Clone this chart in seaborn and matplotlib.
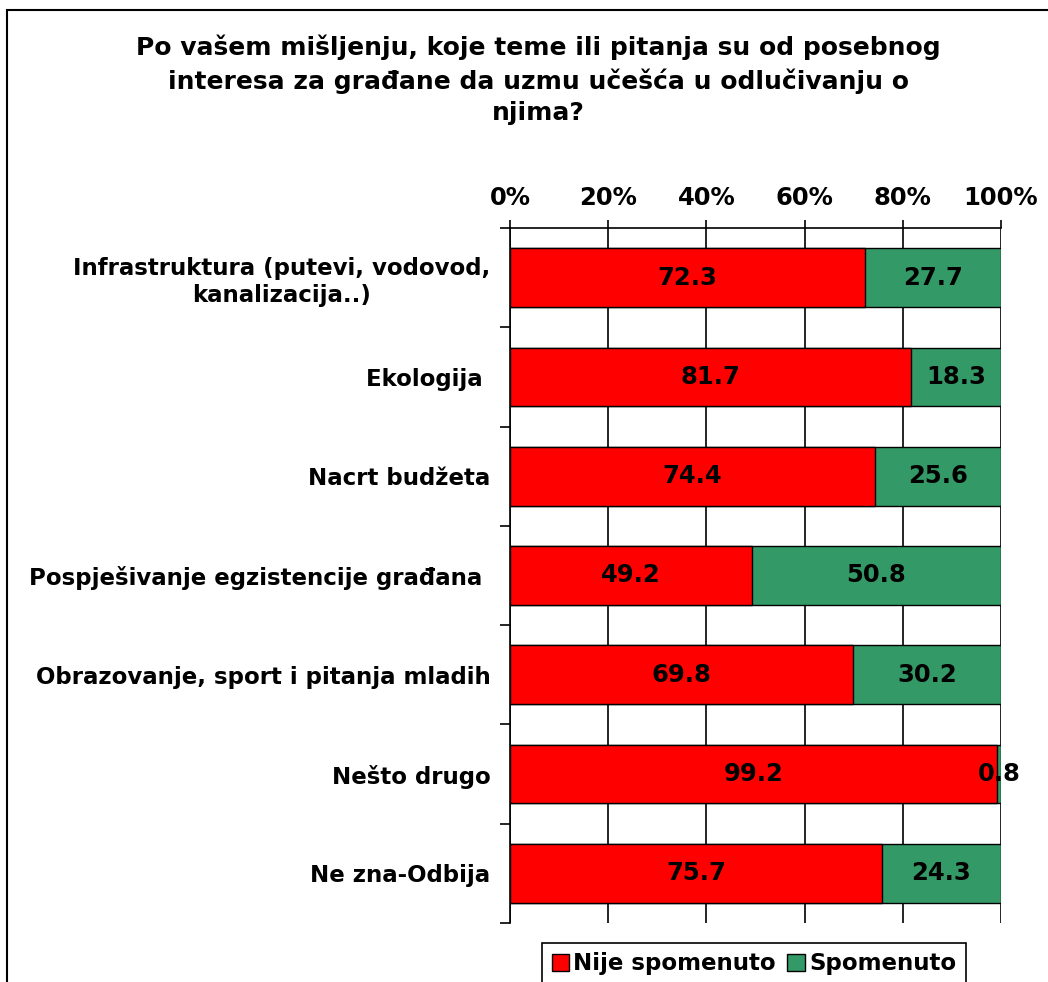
import matplotlib
matplotlib.use("Agg")
import matplotlib.pyplot as plt
import matplotlib.patches as mpatches
from matplotlib.ticker import FixedLocator, PercentFormatter
import seaborn as sns
import pandas as pd

# data
categories = [
    "Infrastruktura (putevi, vodovod,\nkanalizacija..)",
    "Ekologija ",
    "Nacrt budžeta",
    "Pospješivanje egzistencije građana ",
    "Obrazovanje, sport i pitanja mladih",
    "Nešto drugo",
    "Ne zna-Odbija",
]
nije_spomenuto = [72.3, 81.7, 74.4, 49.2, 69.8, 99.2, 75.7]
spomenuto = [27.7, 18.3, 25.6, 50.8, 30.2, 0.8, 24.3]
x_ticks = [0, 20, 40, 60, 80, 100]

title = ("Po vašem mišljenju, koje teme ili pitanja su od posebnog\n"
         "interesa za građane da uzmu učešća u odlučivanju o\n"
         "njima?")

RED = "#FF0000"
GREEN = "#339966"

sns.set_style("white")
plt.rcParams['font.family'] = ['DejaVu Sans']
plt.rcParams['font.weight'] = 'bold'
plt.rcParams['text.color'] = 'black'
plt.rcParams['axes.labelcolor'] = 'black'
plt.rcParams['xtick.color'] = 'black'
plt.rcParams['ytick.color'] = 'black'

df = pd.DataFrame({
    "kategorija": categories,
    "nije": nije_spomenuto,
    "spom": spomenuto,
})
df["ukupno"] = df["nije"] + df["spom"]

fig = plt.figure(figsize=(10.48, 9.82), dpi=100)
ax = fig.add_axes([510 / 1048, 1 - 923 / 982, 491 / 1048, 695 / 982])

# stacked bars: total (green) underneath, red on top
sns.barplot(data=df, x="ukupno", y="kategorija", color=GREEN, saturation=1,
            width=0.59, edgecolor="black", linewidth=1.0, ax=ax, zorder=3)
sns.barplot(data=df, x="nije", y="kategorija", color=RED, saturation=1,
            width=0.59, edgecolor="black", linewidth=1.0, ax=ax, zorder=4)

# value labels
for i, row in df.iterrows():
    ax.text(row["nije"] / 2, i, f"{row['nije']:.1f}", ha="center", va="center",
            fontsize=17.5, fontweight="bold", color="black", zorder=5)
    ax.text(row["nije"] + row["spom"] / 2, i, f"{row['spom']:.1f}", ha="center",
            va="center", fontsize=17.5, fontweight="bold", color="black",
            zorder=5, clip_on=False)

# axes styling
ax.set_xlim(0, 100)
ax.set_ylim(len(categories) - 0.5, -0.5)
ax.set_xlabel("")
ax.set_ylabel("")
ax.xaxis.tick_top()
ax.set_xticks(x_ticks)
ax.xaxis.set_major_formatter(PercentFormatter(decimals=0))
ax.tick_params(axis="x", which="major", direction="out", length=6, width=1.2,
               pad=7, labelsize=17.5, colors="black")
ax.grid(axis="x", color="black", linewidth=1.2, zorder=0)
ax.set_axisbelow(True)

ax.yaxis.set_minor_locator(FixedLocator([i - 0.5 for i in range(len(categories) + 1)]))
ax.tick_params(axis="y", which="major", length=0, pad=14, labelsize=16.5,
               colors="black")
ax.tick_params(axis="y", which="minor", direction="out", length=7, width=1.2,
               left=True, colors="black")
for lbl in ax.get_yticklabels():
    lbl.set_fontweight("bold")
    lbl.set_multialignment("center")
for lbl in ax.get_xticklabels():
    lbl.set_fontweight("bold")

for side in ["top", "left"]:
    ax.spines[side].set_visible(True)
    ax.spines[side].set_color("black")
    ax.spines[side].set_linewidth(1.2)
ax.spines["bottom"].set_visible(False)
ax.spines["right"].set_visible(False)

# title
fig.text(538 / 1048, 1 - 35 / 982, title, ha="center", va="top",
         fontsize=18, fontweight="bold", linespacing=1.38, color="black")

# legend
handles = [mpatches.Patch(facecolor=RED, edgecolor="black", label="Nije spomenuto"),
           mpatches.Patch(facecolor=GREEN, edgecolor="black", label="Spomenuto")]
leg = fig.legend(handles=handles, loc="upper center",
                 bbox_to_anchor=(754 / 1048, 1 - 943 / 982), ncol=2,
                 frameon=True, fancybox=False, framealpha=1, handlelength=0.75,
                 handleheight=0.75, handletextpad=0.2, columnspacing=0.5,
                 borderpad=0.4, borderaxespad=0,
                 prop={"weight": "bold", "size": 16.5})
leg.get_frame().set_edgecolor("black")
leg.get_frame().set_linewidth(1.2)

# outer chart frame
frame = mpatches.Rectangle((7 / 1048, -0.1), 1.2, 1.1 - 10 / 982,
                           transform=fig.transFigure, fill=False,
                           edgecolor="black", linewidth=1.5)
fig.patches.append(frame)

fig.savefig("out.png", dpi=100)
